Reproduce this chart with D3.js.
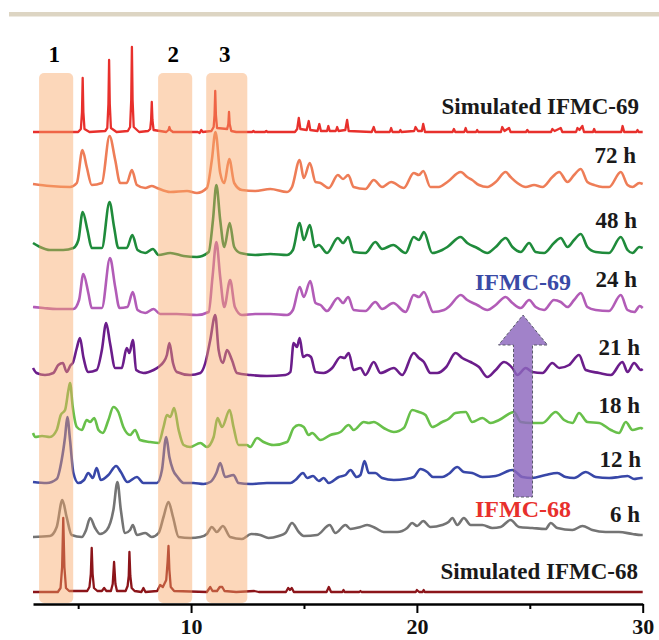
<!DOCTYPE html>
<meta charset="utf-8">
<head>
<title>PXRD time series</title>
</head>
<style>
body { margin: 0; background: #fff; }
svg { display: block; }
.lbl { font-family: "Liberation Serif", "Times New Roman", serif; font-weight: bold; }
</style>
<body>
<div id="content">
  <svg width="659" height="640"></svg>
</div>

<script src="https://cdn.jsdelivr.net/npm/d3@7/dist/d3.min.js"></script>
<script>

// ---- data: [2theta, intensity (a.u.)] ----
var sim69 = [[3,0],[5.0,0],[5.12,3],[5.17,20],[5.2,54],[5.23,20],[5.28,3],[5.5,0],
  [6.2,1],[6.29,4],[6.34,28],[6.37,72],[6.4,28],[6.45,4],[6.7,0],
  [7.2,1],[7.3,5],[7.35,32],[7.38,85],[7.41,32],[7.46,5],[7.7,0],
  [8.1,1],[8.19,3],[8.23,12],[8.26,30],[8.29,12],[8.34,2],
  [8.9,0],[9.0,2],[9.04,5],[9.08,2],[9.2,0],
  [10.3,0],[10.38,-1],[10.45,2],[10.52,0],
  [10.9,1],[11.0,5],[11.04,17],[11.07,41],[11.1,17],[11.15,4],
  [11.6,3],[11.65,8],[11.68,20],[11.71,8],[11.78,1],
  [12.0,0],[12.7,0],[12.76,1],[12.82,0],[13.27,0],[13.33,1],[13.39,0],
  [14.6,0],[14.7,3],[14.77,14],[14.84,3],[15.12,2],[15.21,11],[15.28,2],[15.6,1],[15.68,8],[15.75,1],
  [16.02,1],[16.08,6],[16.14,1],[16.41,1],[16.47,5],[16.53,1],[16.83,2],[16.91,12],[16.98,1],
  [18.0,0],[18.09,5],[18.16,0],[18.8,0],[18.86,4],[18.92,0],[19.22,0],[19.27,2],[19.32,0],
  [19.88,1],[19.94,5],[20.05,1],[20.22,1],[20.28,8],[20.36,0],
  [21.58,0],[21.64,3],[21.7,0],[22.1,0],[22.16,4],[22.22,0],[22.62,0],[22.67,2],[22.72,0],
  [23.72,0],[23.78,5],[23.88,1],[24.08,4],[24.15,0],[24.83,0],[24.89,2],[24.95,0],
  [25.94,0],[26.0,3],[26.1,1],[26.37,4],[26.44,0],[27.05,0],[27.11,4],[27.2,2],[27.33,6],[27.4,0],
  [27.8,0],[27.85,3],[27.9,0],[29.05,0],[29.11,6],[29.18,0],[29.72,0],[29.77,2],[29.82,0],[30,0]];

var h72 = [[3.0,6],[3.75,4],[4.64,3],[4.94,7],[5.19,40],[5.38,23],[5.6,5],[6.05,7],[6.39,54],[6.64,30],
  [6.86,7],[7.15,7],[7.38,20],[7.6,5],[7.97,2],[8.26,4],[8.49,2],[9.08,-2],[9.82,-1],[10.26,-3],[10.7,2],
  [10.92,30],[11.08,58],[11.29,17],[11.47,7],[11.69,31],[11.91,7],[12.25,0],[12.84,-1],[13.51,1],[14.25,-2],
  [14.47,3],[14.81,30],[14.99,12],[15.26,27],[15.51,8],[15.73,7],[16.1,2],[16.5,15],[16.73,11],[16.96,15],
  [17.2,3],[17.72,1],[18.09,10],[18.46,3],[18.86,8],[19.42,2],[19.86,17],[20.09,15],[20.28,19],[20.6,3],
  [20.97,3],[21.35,8],[21.94,18],[22.23,13],[22.45,10],[22.75,5],[23.12,3],[23.49,8],[23.93,18],[24.15,13],
  [24.45,7],[24.82,3],[25.19,5],[25.56,3],[26.0,13],[26.3,18],[26.67,8],[26.96,15],[27.26,21],[27.55,8],
  [27.85,5],[28.22,3],[28.51,3],[29.03,18],[29.33,5],[29.55,3],[29.85,7],[30,6]];

var h48 = [[3.0,10],[3.31,6],[3.75,3],[4.34,3],[4.79,5],[5.01,13],[5.2,41],[5.41,23],[5.6,5],[6.05,5],
  [6.39,51],[6.59,26],[6.78,5],[7.15,5],[7.4,18],[7.63,3],[7.97,0],[8.31,4],[8.56,-2],[9.08,0],[9.67,-3],
  [10.26,-4],[10.78,1],[10.97,33],[11.12,68],[11.29,33],[11.47,6],[11.71,30],[11.91,6],[12.18,0],[12.84,-2],
  [13.51,-1],[14.25,-2],[14.51,3],[14.81,30],[14.99,13],[15.26,28],[15.48,6],[15.66,8],[16.02,0],[16.5,15],
  [16.73,10],[16.96,16],[17.2,1],[17.72,0],[18.16,11],[18.46,4],[18.95,8],[19.5,0],[19.86,16],[20.09,13],
  [20.31,21],[20.68,0],[21.12,3],[21.35,6],[21.94,16],[22.23,10],[22.67,5],[23.12,0],[23.49,6],[23.93,15],
  [24.23,6],[24.6,1],[24.97,10],[25.26,1],[25.63,0],[26.07,10],[26.37,15],[26.67,6],[26.96,13],[27.26,19],
  [27.55,6],[27.92,1],[28.51,0],[29.03,16],[29.33,3],[29.55,0],[29.85,6],[30,5]];

var h24 = [[3.0,6],[3.46,5],[4.05,4],[4.79,4],[5.04,13],[5.23,39],[5.45,20],[5.6,5],[6.05,5],[6.41,55],
  [6.64,26],[6.83,5],[7.18,6],[7.42,21],[7.63,3],[7.97,0],[8.34,4],[8.63,-1],[9.37,-1],[10.26,-2],[10.78,1],
  [10.95,36],[11.12,71],[11.29,36],[11.47,6],[11.73,33],[11.94,6],[12.25,-2],[12.84,-1],[13.51,-1],[14.25,-2],
  [14.51,3],[14.81,26],[14.99,16],[15.28,32],[15.51,10],[15.73,8],[16.02,2],[16.5,15],[16.73,10],[16.96,16],
  [17.2,3],[17.72,2],[18.16,11],[18.46,4],[18.95,10],[19.5,1],[19.86,18],[20.09,16],[20.31,21],[20.72,1],
  [21.2,3],[21.45,7],[21.94,18],[22.23,13],[22.67,8],[23.12,3],[23.49,8],[23.93,16],[24.23,10],[24.6,5],
  [24.97,13],[25.26,6],[25.63,3],[26.07,13],[26.37,11],[26.67,6],[26.96,13],[27.26,20],[27.55,6],[27.92,3],
  [28.51,2],[29.03,18],[29.33,3],[29.63,1],[29.87,7],[30,5]];

var h21 = [[3.0,7],[3.16,2],[3.53,0],[3.9,2],[4.12,10],[4.32,12],[4.49,3],[4.67,10],[4.76,12],[4.94,27],
  [5.08,37],[5.23,18],[5.45,3],[5.82,5],[6.05,25],[6.24,52],[6.41,32],[6.64,7],[6.93,7],[7.15,27],[7.27,22],
  [7.42,35],[7.57,5],[7.89,2],[8.34,5],[8.56,8],[8.78,13],[8.93,20],[9.04,32],[9.2,12],[9.37,3],[9.96,0],
  [10.41,2],[10.63,12],[10.85,35],[11.07,60],[11.22,25],[11.41,12],[11.59,25],[11.81,15],[12.03,2],[12.62,0],
  [13.36,-1],[14.18,0],[14.4,3],[14.54,32],[14.69,28],[14.81,37],[14.96,18],[15.14,20],[15.31,18],[15.51,3],
  [15.87,2],[16.25,7],[16.62,18],[16.79,17],[16.98,22],[17.2,5],[17.5,7],[17.72,0],[18.09,13],[18.39,2],
  [18.98,7],[19.35,0],[19.86,22],[20.09,17],[20.31,13],[20.6,2],[20.9,2],[21.3,8],[21.71,22],[22.01,17],
  [22.38,13],[22.75,8],[23.12,-2],[23.49,5],[23.86,13],[24.23,7],[24.45,0],[24.82,7],[25.11,3],[25.56,2],
  [26.0,12],[26.3,7],[26.74,10],[27.18,20],[27.48,5],[28.07,2],[28.59,0],[29.1,13],[29.33,3],[29.62,12],
  [29.92,5],[30,6]];

var h18 = [[3.0,12],[3.1,8],[3.4,9],[3.75,8],[4.05,15],[4.23,30],[4.42,35],[4.57,55],[4.64,62],[4.76,38],
  [4.94,18],[5.16,15],[5.38,25],[5.53,23],[5.71,27],[5.9,15],[6.09,12],[6.34,25],[6.56,38],[6.78,33],[7.0,18],
  [7.3,10],[7.52,15],[7.74,5],[8.19,3],[8.56,2],[8.78,18],[8.93,30],[9.08,28],[9.25,37],[9.45,15],[9.67,0],
  [9.96,-2],[10.41,2],[10.7,-2],[11.0,8],[11.17,27],[11.37,18],[11.71,35],[11.88,18],[12.1,0],[12.47,0],
  [12.62,-2],[12.92,7],[13.21,3],[13.66,0],[14.25,3],[14.54,17],[14.77,20],[14.99,18],[15.21,10],[15.36,12],
  [15.73,5],[16.17,10],[16.62,13],[16.98,20],[17.2,15],[17.65,23],[17.87,22],[18.09,23],[18.53,17],[18.98,13],
  [19.42,17],[19.79,35],[20.09,33],[20.38,30],[20.68,18],[21.12,23],[21.4,26],[21.71,32],[22.16,33],[22.45,23],
  [22.9,27],[23.27,22],[23.64,25],[24.3,33],[24.6,23],[25.04,22],[25.56,22],[26.15,33],[26.52,25],[26.89,22],
  [27.18,32],[27.55,23],[28.07,22],[28.59,15],[28.95,12],[29.25,23],[29.55,15],[29.92,17],[30,16]];

var h12 = [[3.0,1],[3.61,0],[4.05,4],[4.27,23],[4.42,46],[4.52,66],[4.64,43],[4.79,10],[5.01,0],[5.26,3],
  [5.45,10],[5.65,5],[5.82,15],[6.0,3],[6.34,8],[6.68,17],[6.89,11],[7.18,1],[7.6,6],[7.89,0],[8.49,0],
  [8.71,13],[8.9,46],[9.04,26],[9.2,13],[9.4,6],[9.67,0],[10.11,0],[10.55,-1],[10.85,1],[11.12,10],[11.29,20],
  [11.51,6],[11.88,8],[12.1,0],[12.62,-1],[13.36,0],[14.4,0],[14.62,3],[14.96,10],[15.14,5],[15.4,7],[15.66,2],
  [15.87,5],[16.1,0],[16.54,6],[16.84,8],[17.06,13],[17.33,6],[17.5,8],[17.68,22],[17.87,10],[18.16,10],
  [18.46,5],[18.98,3],[19.5,4],[19.86,6],[20.16,14],[20.46,11],[20.72,6],[21.12,6],[21.4,9],[21.79,16],
  [22.08,11],[22.45,10],[22.9,6],[23.49,7],[24.23,13],[24.67,6],[25.11,5],[25.7,8],[26.22,10],[26.59,6],
  [26.96,5],[27.48,11],[27.92,6],[28.51,5],[28.95,6],[29.33,7],[29.62,4],[29.92,5],[30,5]];

var h6 = [[3.0,0],[3.75,1],[4.05,10],[4.3,37],[4.49,20],[4.71,2],[5.16,0],[5.35,7],[5.53,19],[5.75,9],
  [5.97,3],[6.27,7],[6.56,27],[6.74,55],[6.89,27],[7.08,4],[7.3,7],[7.42,12],[7.6,2],[7.97,4],[8.26,0],
  [8.56,4],[8.78,20],[9.0,35],[9.2,20],[9.45,0],[9.96,-1],[10.41,0],[10.7,3],[10.92,10],[11.14,5],[11.41,11],
  [11.73,0],[12.25,-2],[12.66,3],[13.06,2],[13.43,-1],[13.88,1],[14.18,4],[14.47,14],[14.77,5],[14.99,1],
  [15.58,2],[16.14,12],[16.39,4],[16.84,12],[17.06,8],[17.5,10],[17.8,12],[18.16,9],[18.53,5],[19.13,5],
  [19.57,9],[19.79,14],[20.01,11],[20.28,16],[20.6,10],[21.12,12],[21.4,15],[21.57,19],[21.79,12],[22.08,19],
  [22.38,12],[22.9,12],[23.34,9],[23.71,10],[24.15,17],[24.52,10],[25.11,9],[25.7,8],[25.93,14],[26.22,9],
  [26.89,7],[27.33,11],[27.77,7],[28.36,5],[28.95,5],[29.55,3],[29.92,2],[30,2]];

var sim68 = [[3,0],[4.1,0],[4.22,4],[4.29,25],[4.34,74],[4.39,25],[4.46,4],[4.6,1],
  [5.4,1],[5.5,5],[5.56,18],[5.6,44],[5.64,18],[5.7,4],[5.85,1],
  [6.05,1],[6.15,4],[6.25,1],[6.45,1],[6.53,8],[6.59,30],[6.65,8],[6.72,1],
  [7.1,1],[7.19,6],[7.24,16],[7.27,40],[7.31,16],[7.37,4],[7.5,1],
  [7.8,0],[7.89,4],[7.98,0],[8.5,1],[8.63,7],[8.75,5],[8.9,12],[8.96,30],[9.0,46],[9.04,22],[9.1,5],[9.25,1],
  [10.7,0],[10.85,5],[10.95,1],[11.15,1],[11.27,5],[11.38,5],[11.48,1],
  [12.0,0],[12.8,1],[13.0,0],[14.2,0],[14.3,4],[14.38,2],[14.46,4],[14.55,0],
  [16.0,0],[16.1,5],[16.2,0],[16.7,0],[16.75,2],[16.8,0],[17.45,0],[17.5,1],[17.55,0],
  [19.95,0],[20.0,2],[20.1,0],[20.25,0],[20.3,2],[20.35,0],[30,0]];

var seriesData = [sim69, h72, h48, h24, h21, h18, h12, h6, sim68];
var seriesNames = ["Simulated IFMC-69", "72 h", "48 h", "24 h", "21 h", "18 h", "12 h", "6 h", "Simulated IFMC-68"];
var seriesOffsets = [472, 414, 351, 291, 229, 159, 121, 67, 12];
var bandRanges = [[3.27, 4.78], [8.54, 10.05], [10.67, 12.49]];
var bandNames = ["1", "2", "3"];
var xTicks = [5, 10, 15, 20, 25, 30];
var xTickLabels = [10, 20, 30];

// ---- styles / layout ----
var colors = ["#e8302c", "#ee7d57", "#1f8b3b", "#b25cb7", "#6b1d8b", "#68c04a", "#3847a8", "#747474", "#8c151a"];
var labelLift = [18, 27, 25, 26, 20, 32, 16, 15, 13];
var labelRight = [639, 636, 637, 637, 640, 640, 641, 640, 638];

var svg = d3.select("svg");

var x = d3.scaleLinear().domain([3, 30]).range([33, 642.7]);
var y = d3.scaleLinear().domain([0, 520]).range([604, 84]);

// header rule of the journal page
svg.append("rect").attr("x", 9).attr("y", 12).attr("width", 650).attr("height", 4.5).attr("fill", "#ddd5c3");

// traces
var line = d3.line();
var gTraces = svg.append("g");
seriesData.forEach(function(pts, i) {
  var off = seriesOffsets[i];
  var sim = (i === 0 || i === seriesData.length - 1);
  line.curve(sim ? d3.curveLinear : d3.curveMonotoneX);
  gTraces.append("path")
    .attr("d", line(pts.map(function(p) { return [x(p[0]), y(off + p[1])]; })))
    .attr("fill", "none")
    .attr("stroke", colors[i])
    .attr("stroke-width", sim ? 2.3 : 2.6)
    .attr("stroke-linejoin", "round");
});

// highlighted regions (drawn over the lines, translucent)
svg.append("g").selectAll("rect")
  .data(bandRanges)
  .enter().append("rect")
  .attr("x", function(d) { return x(d[0]); })
  .attr("width", function(d) { return x(d[1]) - x(d[0]); })
  .attr("y", 73)
  .attr("height", 530)
  .attr("rx", 5)
  .attr("fill", "#f9a766")
  .attr("opacity", 0.45);

svg.append("g").selectAll("text")
  .data(bandRanges)
  .enter().append("text")
  .attr("class", "lbl")
  .attr("x", function(d) { return (x(d[0]) + x(d[1])) / 2 - 2; })
  .attr("y", 62)
  .attr("text-anchor", "middle")
  .attr("font-size", 23)
  .text(function(d, i) { return bandNames[i]; });

// x axis
var axis = d3.axisBottom(x)
  .tickValues(xTicks)
  .tickSizeOuter(0)
  .tickFormat(function(d) { return xTickLabels.indexOf(d) >= 0 ? d : ""; });

var gx = svg.append("g").attr("transform", "translate(0,604)").call(axis);
gx.select(".domain").attr("stroke-width", 2.5);
gx.selectAll(".tick line")
  .attr("stroke-width", 2)
  .attr("y2", function(d) { return xTickLabels.indexOf(d) >= 0 ? 9 : 5; });
gx.selectAll(".tick text")
  .attr("class", "lbl")
  .attr("font-size", 22)
  .attr("fill", "#111")
  .attr("y", 30)
  .attr("dy", 0);

// series labels
svg.append("g").selectAll("text")
  .data(seriesNames)
  .enter().append("text")
  .attr("class", "lbl")
  .attr("x", function(d, i) { return labelRight[i]; })
  .attr("y", function(d, i) { return y(seriesOffsets[i]) - labelLift[i]; })
  .attr("text-anchor", "end")
  .attr("font-size", 23)
  .attr("fill", "#1a1a1a")
  .text(function(d) { return d; });

// transformation arrow
var ax = x(24.7);
var arrow = d3.path();
arrow.moveTo(ax - 9.5, 497);
arrow.lineTo(ax - 9.5, 345);
arrow.lineTo(ax - 24.5, 345);
arrow.lineTo(ax, 315);
arrow.lineTo(ax + 24.5, 345);
arrow.lineTo(ax + 9.5, 345);
arrow.lineTo(ax + 9.5, 497);
arrow.closePath();
svg.append("path")
  .attr("d", arrow.toString())
  .attr("fill", "#8c66bd")
  .attr("fill-opacity", 0.82)
  .attr("stroke", "#5a5a6a")
  .attr("stroke-width", 1)
  .attr("stroke-dasharray", "3,2");

svg.append("text").attr("class", "lbl")
  .attr("x", ax).attr("y", 290).attr("text-anchor", "middle")
  .attr("font-size", 24).attr("fill", "#3a4aa6")
  .text("IFMC-69");
svg.append("text").attr("class", "lbl")
  .attr("x", ax).attr("y", 517).attr("text-anchor", "middle")
  .attr("font-size", 24).attr("fill", "#e8302c")
  .text("IFMC-68");

</script>
</body>
</html>
